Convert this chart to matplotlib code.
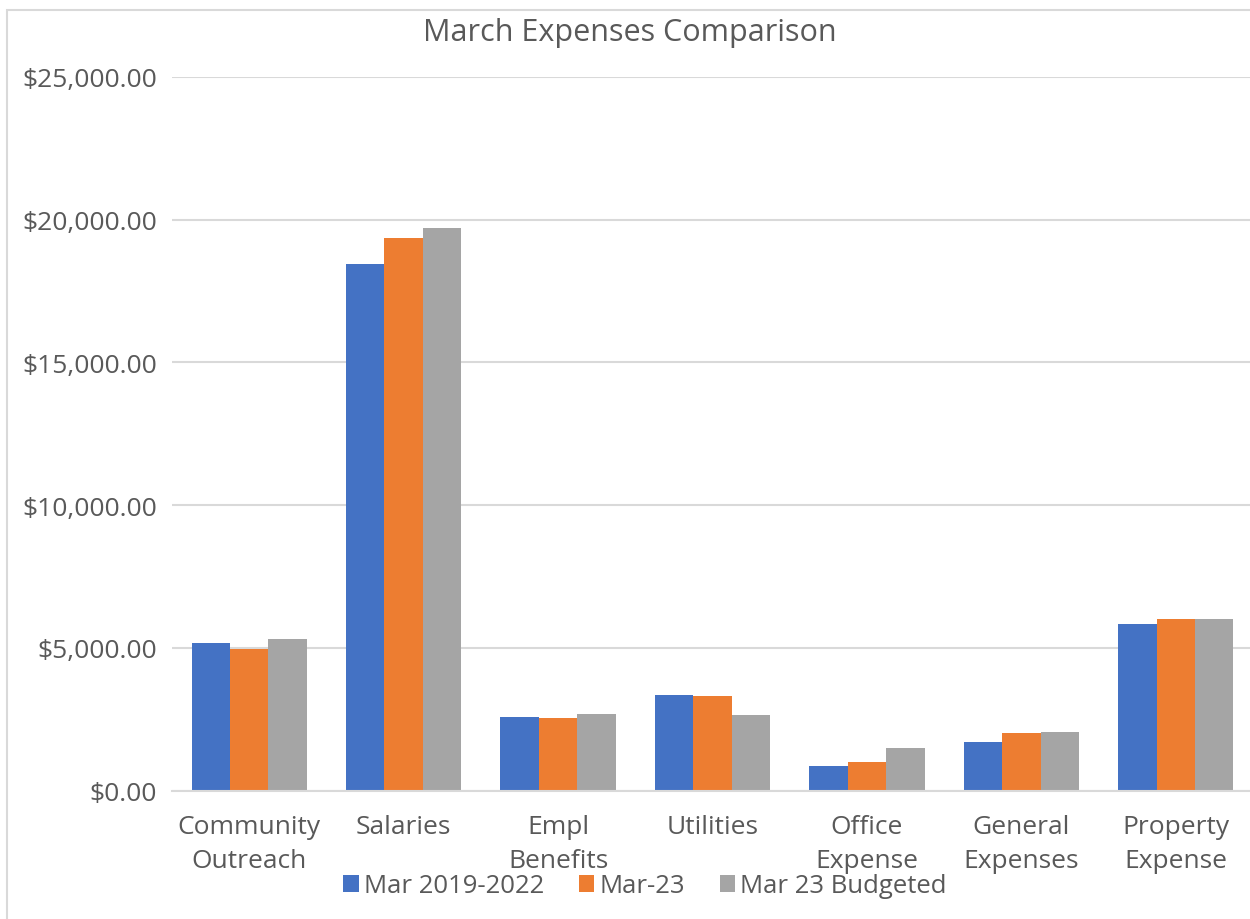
import matplotlib
matplotlib.use("Agg")
import matplotlib.pyplot as plt
import matplotlib.patches as mpatches
from matplotlib.ticker import FuncFormatter, MultipleLocator
import numpy as np

categories = ["Community\nOutreach", "Salaries", "Empl\nBenefits", "Utilities",
              "Office\nExpense", "General\nExpenses", "Property\nExpense"]
series_names = ["Mar 2019-2022", "Mar-23", "Mar 23 Budgeted"]
mar_2019_2022 = [5180, 18450, 2590, 3350, 880, 1720, 5850]
mar_23 = [4960, 19350, 2560, 3310, 1020, 2010, 6030]
mar_23_budgeted = [5300, 19720, 2670, 2650, 1490, 2040, 6030]
colors = ["#4472C4", "#ED7D31", "#A5A5A5"]

plt.rcParams['font.family'] = ['Open Sans', 'DejaVu Sans']
text_color = "#595959"

W, H = 1250, 920
fig = plt.figure(figsize=(W / 100, H / 100), dpi=100)
ax = fig.add_axes([172 / W, 1 - 791.7 / H, 1081 / W, (791.7 - 78) / H])

x = np.arange(len(categories))
bw = 0.249
for i, (vals, name) in enumerate(zip([mar_2019_2022, mar_23, mar_23_budgeted], series_names)):
    ax.bar(x + (i - 1) * bw, vals, width=bw, color=colors[i], label=name, zorder=3)

ax.set_xlim(-0.5, len(categories) - 0.5)
ax.set_ylim(0, 25000)
ax.yaxis.set_major_locator(MultipleLocator(5000))
ax.yaxis.set_major_formatter(FuncFormatter(lambda v, p: "${:,.2f}".format(v)))
ax.grid(axis='y', color="#D9D9D9", linewidth=1.5, zorder=0)
for s in ["top", "right", "left"]:
    ax.spines[s].set_visible(False)
ax.spines["bottom"].set_color("#D9D9D9")
ax.spines["bottom"].set_linewidth(1.5)
ax.spines["bottom"].set_zorder(4)
ax.set_xticks(x)
ax.set_xticklabels(categories, linespacing=1.5)
ax.tick_params(axis='both', length=0, labelsize=19, labelcolor=text_color)
ax.tick_params(axis='y', pad=11)
ax.tick_params(axis='x', pad=16.5)

fig.text(630 / W, 1 - 33 / H, "March Expenses Comparison", ha='center', va='center',
         fontsize=22, color=text_color)

handles, labels = ax.get_legend_handles_labels()
fig.legend(handles, labels, loc='center', bbox_to_anchor=(645 / W, 1 - 887 / H), ncol=3,
           frameon=False, fontsize=18.5, handlelength=0.6, handleheight=0.6,
           handletextpad=0.2, columnspacing=1.35, labelcolor=text_color)

fig.patches.append(mpatches.Rectangle((7 / W, -0.1), 1.2, (1 - 10.5 / H) + 0.1,
                                      transform=fig.transFigure, fill=False,
                                      edgecolor="#D9D9D9", linewidth=1.5))

fig.savefig("out.png", dpi=100, facecolor="white")
